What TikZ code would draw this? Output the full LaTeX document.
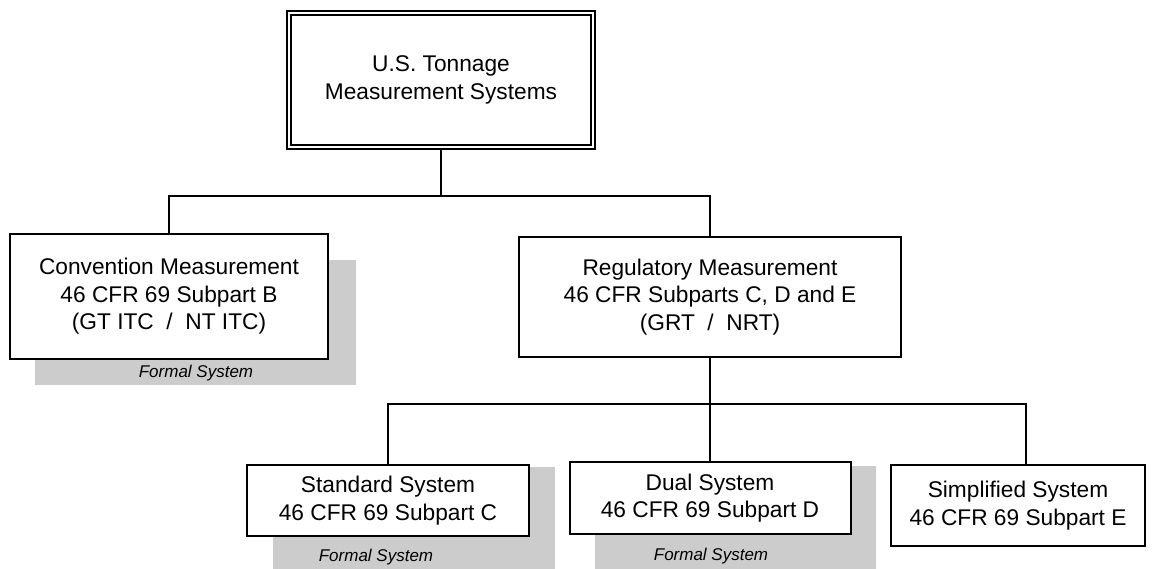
\documentclass[tikz,border=0pt]{standalone}
\usepackage{fontspec}
\setmainfont{Liberation Sans}
\definecolor{shadowgray}{HTML}{CCCCCC}
\begin{document}
\begin{tikzpicture}[x=1pt,y=-1pt,
  box/.style={draw=black,line width=2pt,fill=white,rectangle,align=center,inner sep=0pt,
    font=\fontsize{22.7}{27.5}\selectfont},
  formal/.style={font=\fontsize{17}{20}\selectfont\itshape,inner sep=0pt},
  conn/.style={line width=2pt}]
\useasboundingbox (0,0) rectangle (1153,569);
% shadows
\fill[shadowgray] (35,260) rectangle (356,385);
\fill[shadowgray] (273,467) rectangle (555,569);
\fill[shadowgray] (595,466) rectangle (876,569);
\node[formal] (f1) at (196,373) {Formal System};
\node[formal] (f2) at (376,557) {Formal System};
\node[formal] (f3) at (711,556) {Formal System};
% boxes
\node[box,minimum width=308pt,minimum height=138pt] (top) at (441,80) {U.S. Tonnage\\Measurement Systems};
\draw[line width=2pt] ([shift={(5pt,-5pt)}]top.north west) rectangle ([shift={(-5pt,5pt)}]top.south east);
\node[box,minimum width=318pt,minimum height=125pt] (conv) at (169,296.5) {Convention Measurement\\46 CFR 69 Subpart B\\(GT ITC~~/~~NT ITC)};
\node[box,minimum width=382pt,minimum height=120pt] (reg) at (710,297) {Regulatory Measurement\\46 CFR Subparts C, D and E\\(GRT~~/~~NRT)};
\node[box,minimum width=282pt,minimum height=71pt] (std) at (388,500.5) {Standard System\\46 CFR 69 Subpart C};
\node[box,minimum width=281pt,minimum height=72pt] (dual) at (710,498) {Dual System\\46 CFR 69 Subpart D};
\node[box,minimum width=254pt,minimum height=81pt] (simp) at (1018,505.5) {Simplified System\\46 CFR 69 Subpart E};
% connectors
\coordinate (busA) at (441,196);
\coordinate (busB) at (710,404);
\draw[conn] (top.south) -- (busA);
\draw[conn] (conv.north) |- (busA) -| (reg.north);
\draw[conn] (reg.south) -- (busB);
\draw[conn] (std.north) |- (busB) -| ([xshift=8pt]simp.north);
\draw[conn] (busB) -- (dual.north);
\end{tikzpicture}
\end{document}
